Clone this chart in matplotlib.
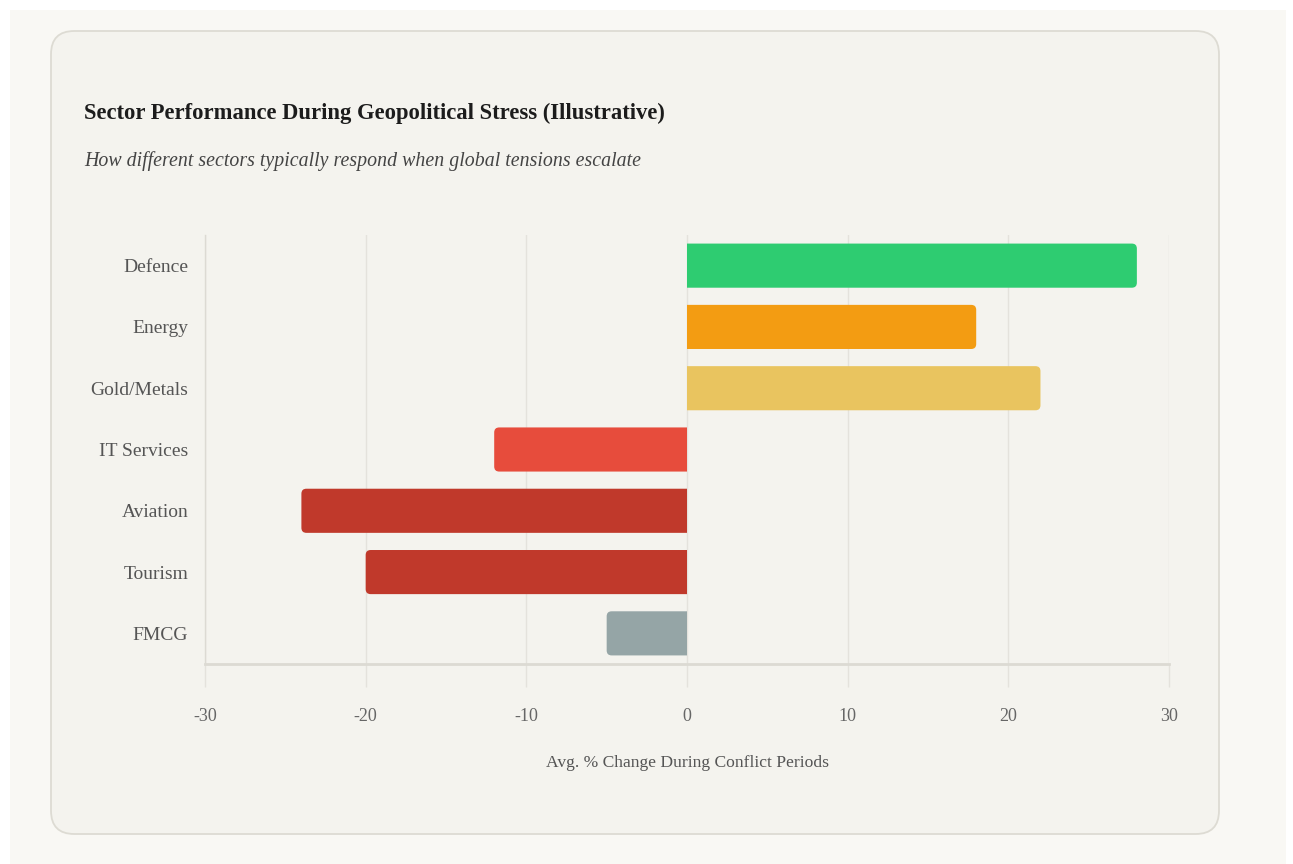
import matplotlib
matplotlib.use("Agg")
import matplotlib.pyplot as plt
import numpy as np
from matplotlib.patches import FancyBboxPatch, Rectangle, PathPatch
from matplotlib.path import Path

# ---- data ----
sectors = ["Defence", "Energy", "Gold/Metals", "IT Services", "Aviation", "Tourism", "FMCG"]
values = [28, 18, 22, -12, -24, -20, -5]
colors = ["#2ecc71", "#f39c12", "#e9c45f", "#e74c3c", "#c0392b", "#c0392b", "#95a5a6"]
xticks = [-30, -20, -10, 0, 10, 20, 30]
title = "Sector Performance During Geopolitical Stress (Illustrative)"
subtitle = "How different sectors typically respond when global tensions escalate"
xlabel = "Avg. % Change During Conflict Periods"

W, H = 1293, 864
fig = plt.figure(figsize=(W / 100, H / 100), dpi=100)
fig.patch.set_facecolor("#ffffff")

def fx(px):
    return px / W

def fy(py):
    return 1 - py / H

# page background
fig.patches.append(Rectangle((fx(10), 0), fx(1286) - fx(10), fy(10), transform=fig.transFigure,
                             fc="#f9f8f4", ec="none", zorder=0))
# card
fig.patches.append(FancyBboxPatch((fx(51), fy(834)), fx(1219) - fx(51), fy(31) - fy(834),
                                  boxstyle="round,pad=0,rounding_size=0.018",
                                  mutation_aspect=W / H,
                                  transform=fig.transFigure, fc="#f4f3ee", ec="#dddbd3",
                                  lw=1.3, zorder=1))

serif = ["Liberation Serif", "DejaVu Serif"]

fig.text(fx(84), fy(119), title, family=serif, weight="bold", fontsize=16.3,
         color="#1c1c1c", va="baseline", ha="left", zorder=3)
fig.text(fx(84), fy(166), subtitle, family=serif, style="italic", fontsize=14.3,
         color="#444444", va="baseline", ha="left", zorder=3)

ax_l, ax_r, ax_t, ax_b = 205, 1169, 235, 664
ax = fig.add_axes([fx(ax_l), fy(ax_b), fx(ax_r) - fx(ax_l), fy(ax_t) - fy(ax_b)])
ax.set_facecolor("none")
ax.set_zorder(2)

n = len(sectors)
ypos = np.arange(n)
bar_h = 0.72
bars = ax.barh(ypos, values, height=bar_h, color=colors, zorder=3)

ax.set_xlim(-30, 30)
ax.set_ylim(n - 0.5, -0.5)

# rounded outer ends (single path per bar, built from the bar geometry)
px_per_x = (ax_r - ax_l) / 60.0
px_per_y = (ax_b - ax_t) / float(n)
rx = 5.0 / px_per_x
ry = 5.0 / px_per_y
for b in bars:
    x0, y0, w, h = b.get_x(), b.get_y(), b.get_width(), b.get_height()
    s = 1 if w >= 0 else -1
    xe = x0 + w
    y1 = y0 + h
    verts = [(x0, y0), (xe - s * rx, y0), (xe, y0), (xe, y0 + ry),
             (xe, y1 - ry), (xe, y1), (xe - s * rx, y1), (x0, y1), (x0, y0)]
    codes = [Path.MOVETO, Path.LINETO, Path.CURVE3, Path.CURVE3,
             Path.LINETO, Path.CURVE3, Path.CURVE3, Path.LINETO, Path.CLOSEPOLY]
    ax.add_patch(PathPatch(Path(verts, codes), fc=b.get_facecolor(), ec="none", zorder=3))
    b.set_visible(False)

grid_c = "#e4e2dc"
ax.set_xticks(xticks)
ax.set_xticklabels([str(t) for t in xticks])
ax.grid(axis="x", color=grid_c, lw=1, zorder=1)
ax.grid(axis="y", visible=False)
ax.tick_params(axis="x", length=16.5, width=1, color=grid_c, pad=15,
               labelsize=13, labelcolor="#666666")
ax.tick_params(axis="y", length=0, pad=12, labelsize=14, labelcolor="#555555")
ax.set_yticks(ypos)
ax.set_yticklabels(sectors)
for lbl in ax.get_xticklabels() + ax.get_yticklabels():
    lbl.set_family(serif)

for s in ["top", "right"]:
    ax.spines[s].set_visible(False)
ax.spines["left"].set_color("#dcdad3")
ax.spines["left"].set_linewidth(1)
ax.spines["bottom"].set_color("#dcdad3")
ax.spines["bottom"].set_linewidth(2)

ax.set_xlabel(xlabel, family=serif, fontsize=12.6, color="#555555", labelpad=22)

fig.savefig("out.png", dpi=100, facecolor=fig.get_facecolor())
